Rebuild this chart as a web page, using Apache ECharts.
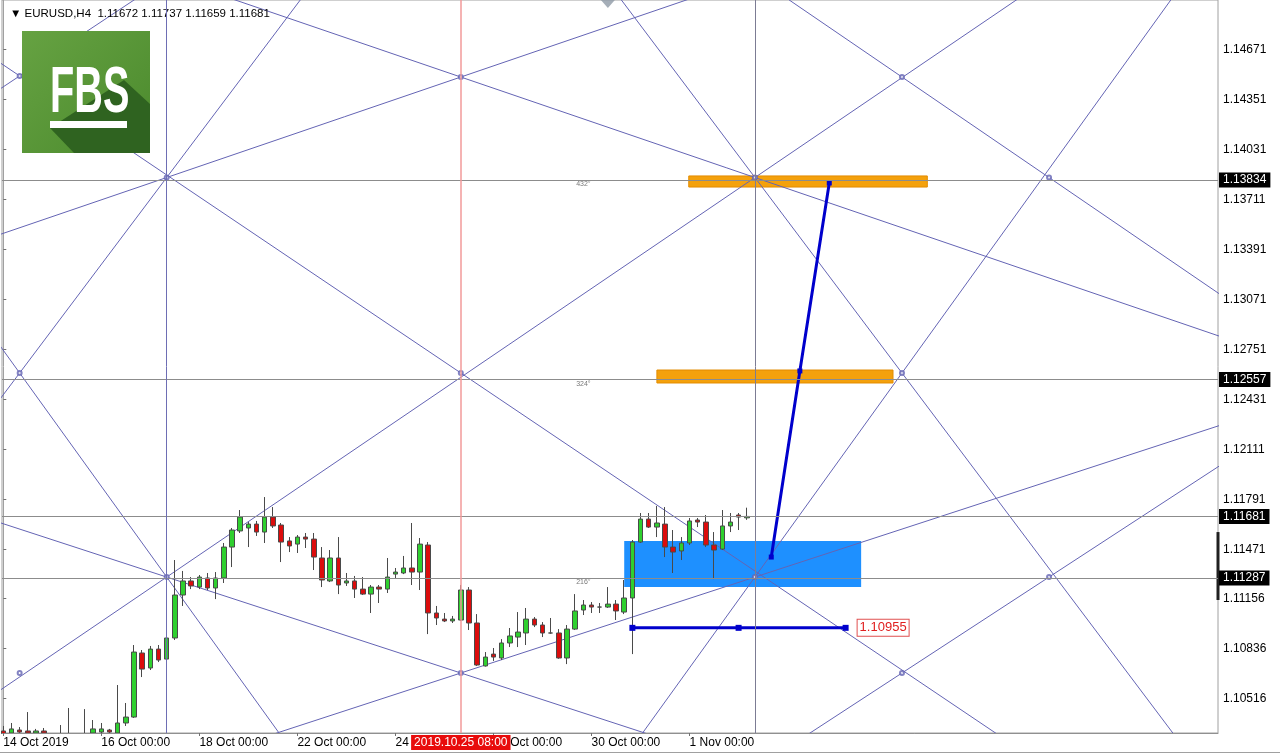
<!DOCTYPE html>
<html>
<head>
<meta charset="utf-8">
<title>EURUSD,H4</title>
<script src="https://cdn.jsdelivr.net/npm/echarts@6/dist/echarts.min.js"></script>
<style>
  html, body { margin: 0; padding: 0; background: #fff; }
  #chart { width: 1280px; height: 755px; }
</style>
</head>
<body>
<div id="chart"></div>
<script>
// ---- data ----
// time axis: bar index -> label (H4 bars, 0 = 14 Oct 2019 00:00)
const timeTickIdx = [0, 12, 24, 36, 48, 60, 72, 84];
const timeTickText = ['14 Oct 2019', '16 Oct 00:00', '18 Oct 00:00', '22 Oct 00:00',
  '24 Oct 00:00', '28 Oct 00:00', '30 Oct 00:00', '1 Nov 00:00'];
// price scale labels on the right
const priceTicks = [1.14671, 1.14351, 1.14031, 1.13711, 1.13391, 1.13071, 1.12751,
  1.12431, 1.12111, 1.11791, 1.11471, 1.11156, 1.10836, 1.10516];

// candles: [open, close, low, high]
const ohlc = [
  [1.10308, 1.10289, 1.10263, 1.10340], [1.10295, 1.10321, 1.10282, 1.10359],
  [1.10314, 1.10301, 1.10289, 1.10333], [1.10308, 1.10295, 1.10282, 1.10429],
  [1.10295, 1.10308, 1.10282, 1.10321], [1.10308, 1.10295, 1.10282, 1.10327],
  [1.10250, 1.10218, 1.10186, 1.10285], [1.10218, 1.10250, 1.10180, 1.10346],
  [1.10240, 1.10200, 1.10150, 1.10455], [1.10200, 1.10230, 1.10160, 1.10270],
  [1.10230, 1.10260, 1.10190, 1.10448], [1.10295, 1.10321, 1.10270, 1.10378],
  [1.10301, 1.10321, 1.10282, 1.10359], [1.10314, 1.10301, 1.10289, 1.10321],
  [1.10295, 1.10359, 1.10282, 1.10602], [1.10359, 1.10397, 1.10340, 1.10487],
  [1.10397, 1.10813, 1.10391, 1.10858], [1.10807, 1.10704, 1.10653, 1.10826],
  [1.10711, 1.10832, 1.10698, 1.10852], [1.10832, 1.10762, 1.10749, 1.10858],
  [1.10768, 1.10903, 1.10762, 1.10916], [1.10903, 1.11178, 1.10890, 1.11402],
  [1.11178, 1.11268, 1.11108, 1.11332], [1.11268, 1.11236, 1.11216, 1.11293],
  [1.11229, 1.11293, 1.11216, 1.11306], [1.11287, 1.11223, 1.11210, 1.11319],
  [1.11223, 1.11287, 1.11152, 1.11325], [1.11287, 1.11485, 1.11255, 1.11511],
  [1.11485, 1.11594, 1.11357, 1.11607], [1.11588, 1.11677, 1.11575, 1.11722],
  [1.11607, 1.11632, 1.11485, 1.11645], [1.11632, 1.11581, 1.11556, 1.11652],
  [1.11581, 1.11677, 1.11511, 1.11805], [1.11677, 1.11620, 1.11607, 1.11741],
  [1.11626, 1.11517, 1.11389, 1.11639], [1.11524, 1.11492, 1.11453, 1.11549],
  [1.11504, 1.11549, 1.11447, 1.11562], [1.11549, 1.11536, 1.11479, 1.11575],
  [1.11536, 1.11421, 1.11338, 1.11575], [1.11415, 1.11274, 1.11229, 1.11485],
  [1.11268, 1.11415, 1.11261, 1.11466], [1.11415, 1.11242, 1.11184, 1.11549],
  [1.11255, 1.11268, 1.11236, 1.11319], [1.11268, 1.11216, 1.11159, 1.11300],
  [1.11216, 1.11184, 1.11178, 1.11293], [1.11184, 1.11229, 1.11063, 1.11242],
  [1.11229, 1.11216, 1.11127, 1.11242], [1.11216, 1.11293, 1.11191, 1.11415],
  [1.11312, 1.11325, 1.11287, 1.11351], [1.11319, 1.11351, 1.11312, 1.11428],
  [1.11351, 1.11325, 1.11242, 1.11639], [1.11325, 1.11504, 1.11210, 1.11543],
  [1.11498, 1.11063, 1.10928, 1.11517], [1.11063, 1.11031, 1.10986, 1.11108],
  [1.11024, 1.11012, 1.11005, 1.11063], [1.11012, 1.11024, 1.10999, 1.11044],
  [1.11018, 1.11210, 1.11012, 1.11242], [1.11210, 1.10999, 1.10954, 1.11229],
  [1.10999, 1.10730, 1.10724, 1.11056], [1.10724, 1.10781, 1.10720, 1.10813],
  [1.10800, 1.10781, 1.10756, 1.10839], [1.10775, 1.10871, 1.10762, 1.10896],
  [1.10871, 1.10916, 1.10845, 1.10967], [1.10909, 1.10941, 1.10845, 1.11069],
  [1.10935, 1.11024, 1.10858, 1.11095], [1.11024, 1.10986, 1.10973, 1.11037],
  [1.10986, 1.10935, 1.10909, 1.11005], [1.10935, 1.10935, 1.10930, 1.11031],
  [1.10935, 1.10775, 1.10770, 1.10960], [1.10775, 1.10960, 1.10736, 1.10986],
  [1.10960, 1.11076, 1.10954, 1.11184], [1.11082, 1.11114, 1.11050, 1.11146],
  [1.11114, 1.11101, 1.11063, 1.11133], [1.11101, 1.11101, 1.11063, 1.11127],
  [1.11101, 1.11120, 1.11095, 1.11229], [1.11120, 1.11076, 1.11018, 1.11146],
  [1.11069, 1.11159, 1.11056, 1.11274], [1.11159, 1.11517, 1.10800, 1.11530],
  [1.11517, 1.11664, 1.11511, 1.11703], [1.11664, 1.11613, 1.11607, 1.11703],
  [1.11613, 1.11639, 1.11549, 1.11748], [1.11632, 1.11485, 1.11421, 1.11741],
  [1.11485, 1.11453, 1.11319, 1.11594], [1.11460, 1.11511, 1.11402, 1.11549],
  [1.11511, 1.11652, 1.11498, 1.11671], [1.11658, 1.11645, 1.11613, 1.11671],
  [1.11645, 1.11498, 1.11485, 1.11690], [1.11498, 1.11466, 1.11280, 1.11581],
  [1.11472, 1.11620, 1.11466, 1.11722], [1.11620, 1.11645, 1.11581, 1.11703],
  [1.11690, 1.11677, 1.11594, 1.11703], [1.11672, 1.11681, 1.11659, 1.11737]
];

// horizontal price levels with their tags, and the degree captions
const levelPrices = [1.13834, 1.12557, 1.11681, 1.11287];
const degreeText = ['432°', '324°', '216°'];
const degreePrices = [1.13834, 1.12557, 1.11287];
const degreeBar = 71;

// vertical object lines (bar index)
const vLineBars = [20, 56, 92];
const redLineText = '2019.10.25 08:00';

// gann grid lines: two anchor points [bar, price] each
const gannLines = [
  [[20, 1.13850], [56, 1.14493]], [[56, 1.14493], [92, 1.13850]],
  [[20, 1.11293], [56, 1.10679]], [[56, 1.10679], [92, 1.11293]],
  [[2, 1.14500], [56, 1.12599]],  [[20, 1.11293], [92, 1.13850]],
  [[2, 1.14500], [16, 1.14986]],  [[110, 1.14493], [128, 1.13850]],
  [[110, 1.10679], [128, 1.11293]],
  [[2, 1.12599], [20, 1.13850]],  [[2, 1.12599], [20, 1.11293]],
  [[92, 1.13850], [110, 1.12599]], [[92, 1.11293], [110, 1.12599]]
];
const gannNodes = [[2, 1.14500], [20, 1.13850], [56, 1.14493], [56, 1.12599], [2, 1.12599],
  [92, 1.13850], [110, 1.14493], [110, 1.12599], [2, 1.10679], [20, 1.11293],
  [56, 1.10679], [92, 1.11293], [110, 1.10679], [128, 1.13850], [128, 1.11293]];

// zones: [bar from, price top, bar to, price bottom]
const orangeZones = [[83.9, 1.13860, 113.1, 1.13789], [80.0, 1.12618, 108.9, 1.12535]];
const blueZone = [76.0, 1.11524, 105.0, 1.11229];
// dark marker on the price scale
const scaleMark = [1.11581, 1.11146];

// projection line and target line
const projection = [[94.0, 1.11421], [97.5, 1.12612], [101.1, 1.13815]];
const targetPrice = 1.10968;
const targetBars = [77, 90, 103.1];
const targetText = '1.10955';

// ---- layout ----
const xMin = -0.16, xMax = 148.68;
const yMin = 1.10295, yMax = 1.14986;
const gannColor = '#6464b4';

const chart = echarts.init(document.getElementById('chart'));

function extendLine(p, q) {
  const k = (q[1] - p[1]) / (q[0] - p[0]);
  const x0 = xMin - 2, x1 = xMax + 2;
  return [[x0, p[1] + k * (x0 - p[0])], [x1, p[1] + k * (x1 - p[0])]];
}

const gannSeries = gannLines.map(function (ln) {
  return {
    type: 'line', data: extendLine(ln[0], ln[1]), symbol: 'none', silent: true,
    lineStyle: { color: gannColor, width: 1 }, z: 3
  };
});

const zoneArea = orangeZones.map(function (z) {
  return [{ coord: [z[0], z[1]], itemStyle: { color: '#f4a10c', borderColor: '#e38c00', borderWidth: 1 } },
          { coord: [z[2], z[3]] }];
});
zoneArea.push([{ coord: [blueZone[0], blueZone[1]], itemStyle: { color: '#1e90ff' } },
               { coord: [blueZone[2], blueZone[3]] }]);

const hLines = levelPrices.map(function (v) {
  return {
    yAxis: v,
    lineStyle: { color: '#8c8c8c', width: 1, type: 'solid' },
    label: {
      show: true, position: 'end', distance: 1, formatter: v.toFixed(5),
      backgroundColor: '#000', color: '#fff', padding: [2, 4, 1, 4],
      fontSize: 12, fontFamily: 'Liberation Sans'
    }
  };
});
const vLines = vLineBars.map(function (b, i) {
  const isRed = i === 1;
  return {
    xAxis: b,
    lineStyle: { color: isRed ? '#f29a9a' : (i === 0 ? '#6e6eb4' : '#7c7c94'), width: isRed ? 1.5 : 1, type: 'solid' },
    label: isRed ? {
      show: true, position: 'start', distance: 2, formatter: redLineText,
      backgroundColor: '#e80c0c', color: '#fff', padding: [2, 3, 1, 3],
      fontSize: 12, fontFamily: 'Liberation Sans'
    } : { show: false }
  };
});

const option = {
  animation: false,
  backgroundColor: '#fff',
  title: {
    text: '▼ EURUSD,H4  1.11672 1.11737 1.11659 1.11681',
    left: 5, top: 3,
    textStyle: { fontSize: 11.5, fontWeight: 'normal', color: '#000', fontFamily: 'Liberation Sans' }
  },
  grid: {
    left: 2, right: 62, top: 0, bottom: 22,
    show: true, borderColor: '#a0a0a0', borderWidth: 1, backgroundColor: 'transparent'
  },
  xAxis: {
    type: 'value', min: xMin, max: xMax, z: 10,
    axisLine: { show: true, lineStyle: { color: '#909090' } },
    splitLine: { show: false },
    axisTick: { show: true, customValues: timeTickIdx, length: 3, lineStyle: { color: '#707070' } },
    axisLabel: {
      customValues: timeTickIdx, align: 'left', margin: 4, color: '#000',
      fontSize: 12, fontFamily: 'Liberation Sans',
      formatter: function (v) { return timeTickText[timeTickIdx.indexOf(Math.round(v))]; }
    }
  },
  yAxis: {
    type: 'value', position: 'right', min: yMin, max: yMax, scale: true,
    axisLine: { show: true, lineStyle: { color: '#a0a0a0' } },
    splitLine: { show: false },
    axisTick: { show: true, customValues: priceTicks, length: 3, lineStyle: { color: '#707070' } },
    axisLabel: {
      customValues: priceTicks, margin: 5, color: '#000', fontSize: 12,
      fontFamily: 'Liberation Sans',
      formatter: function (v) { return v.toFixed(5); }
    }
  },
  graphic: [
    // strip below the time scale
    { type: 'rect', shape: { x: 0, y: 734, width: 1218, height: 21 }, style: { fill: '#fff' }, z: 5, silent: true },
    { type: 'line', shape: { x1: 0, y1: 752.5, x2: 1280, y2: 752.5 }, style: { stroke: '#a0a0a0', lineWidth: 1 }, z: 5 },
    // FBS logo
    {
      type: 'rect', shape: { x: 22, y: 31, width: 128, height: 122 }, z: 40,
      style: { fill: new echarts.graphic.LinearGradient(0, 0, 1, 1, [
        { offset: 0, color: '#66a242' }, { offset: 1, color: '#4b8a2d' }]) }
    },
    {
      type: 'polygon', z: 41,
      shape: { points: [[50, 128], [124, 80], [150, 104], [150, 153], [74, 153]] },
      style: { fill: '#2f6320' }
    },
    {
      type: 'text', x: 50, y: 62, scaleX: 0.62, z: 42,
      style: { text: 'FBS', fill: '#fff', font: 'bold 64px "Liberation Sans"', textAlign: 'left', textVerticalAlign: 'top' }
    },
    { type: 'rect', shape: { x: 50, y: 121, width: 77, height: 7 }, style: { fill: '#fff' }, z: 42 }
  ],
  series: [
    {
      name: 'zones', type: 'line', data: [], silent: true, z: 1,
      markArea: { silent: true, z: 1, data: zoneArea }
    }
  ].concat(gannSeries).concat([
    {
      name: 'nodes', type: 'scatter', data: gannNodes, symbol: 'emptyCircle', symbolSize: 4,
      itemStyle: { color: gannColor, borderColor: gannColor }, silent: true, z: 3
    },
    {
      name: 'anchor', type: 'scatter', data: [[74, yMax]], symbol: 'diamond', symbolSize: [14, 16],
      itemStyle: { color: '#8e9aa6' }, clip: false, silent: true, z: 3
    },
    {
      name: 'EURUSD', type: 'candlestick', z: 4,
      data: ohlc.map(function (c, i) { return [i, c[0], c[1], c[2], c[3]]; }),
      encode: { x: 0, y: [1, 2, 3, 4] },
      barWidth: 5,
      itemStyle: {
        color: '#2fd02f', color0: '#dc0c0c',
        borderColor: '#4a4a4a', borderColor0: '#4a4a4a', borderWidth: 1
      }
    },
    {
      name: 'levels', type: 'line', data: [], silent: true, z: 20,
      markLine: {
        silent: true, symbol: ['none', 'none'], animation: false, precision: 5, z: 30,
        data: hLines.concat(vLines)
      }
    },
    {
      name: 'scaleMark', type: 'line', silent: true, z: 22, clip: false, symbol: 'none',
      data: scaleMark.map(function (p) { return [xMax, p]; }),
      lineStyle: { color: '#202020', width: 3 }
    },
    {
      name: 'degrees', type: 'scatter', symbolSize: 0, silent: true, z: 20,
      data: degreePrices.map(function (p, i) { return { value: [degreeBar, p], name: degreeText[i] }; }),
      label: {
        show: true, position: 'bottom', distance: 1, formatter: '{b}',
        fontSize: 7, color: '#555', fontFamily: 'Liberation Sans'
      }
    },
    {
      name: 'projection', type: 'line', data: projection, z: 21, silent: true,
      symbol: 'rect', symbolSize: 5, showSymbol: true,
      lineStyle: { color: '#0000cc', width: 3 }, itemStyle: { color: '#0000cc' }
    },
    {
      name: 'target', type: 'line', z: 21, silent: true,
      data: targetBars.map(function (b, i) {
        const pt = { value: [b, targetPrice] };
        if (i === targetBars.length - 1) {
          pt.label = {
            show: true, position: 'right', distance: 9, formatter: targetText,
            color: '#e02020', borderColor: '#e05050', borderWidth: 1, backgroundColor: '#fff',
            padding: [2, 2, 1, 2], fontSize: 13, fontFamily: 'Liberation Sans'
          };
        }
        return pt;
      }),
      symbol: 'rect', symbolSize: 6, showSymbol: true,
      lineStyle: { color: '#0000cc', width: 3 }, itemStyle: { color: '#0000cc' }
    }
  ])
};

chart.setOption(option);
</script>
</body>
</html>
